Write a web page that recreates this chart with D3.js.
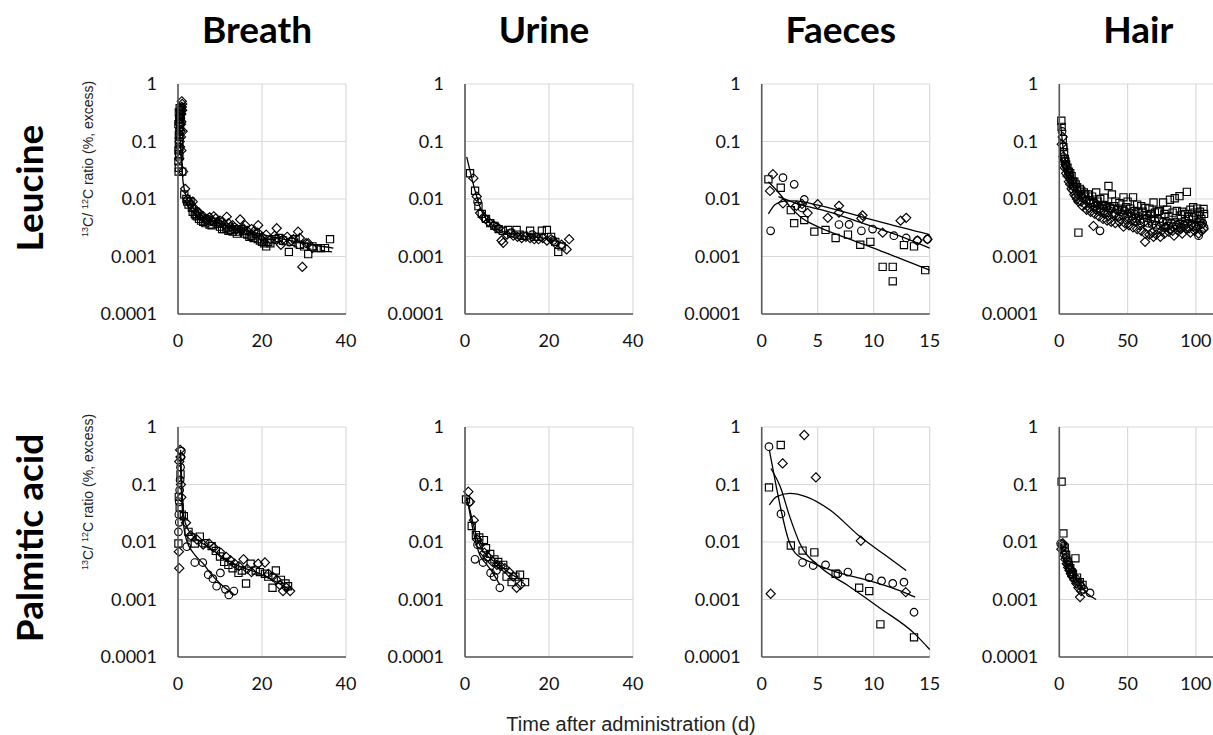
<!DOCTYPE html>
<html><head><meta charset="utf-8">
<script src="https://cdn.jsdelivr.net/npm/d3@7"></script>
<style>body{margin:0;background:#fff}</style>
</head><body><svg id="c" width="1213" height="735"></svg>
<script>
// ---------- tick labels / categories ----------
const colTitles = ["Breath", "Urine", "Faeces", "Hair"];
const rowTitles = ["Leucine", "Palmitic acid"];
const yTicks = [1, 0.1, 0.01, 0.001, 0.0001];
const yTickLabels = ["1", "0.1", "0.01", "0.001", "0.0001"];
const xDomains = [[0, 40], [0, 40], [0, 15], [0, 123]];
const xTicks = [[0, 20, 40], [0, 20, 40], [0, 5, 10, 15], [0, 50, 100]];
const xLabel = "Time after administration (d)";

// ---------- Leucine / Breath ----------
const LB_sq = [[0.15,0.03],[0.2,0.035],[0.3,0.055],[0.25,0.06],[0.35,0.08],[0.2,0.1],[0.4,0.12],[0.3,0.15],[0.5,0.18],[0.4,0.22],[0.6,0.25],[0.5,0.3],[0.7,0.35],[0.6,0.28],[0.8,0.4],[0.1,0.07],[0.2,0.13],[0.1,0.2],[0.3,0.25],[0.2,0.32],[0.4,0.38],[0.1,0.045],[1.0,0.03],[1.5,0.012],[2.0,0.01],[2.2,0.009],[2.5,0.008],[3.0,0.009],[3.3,0.007],[3.5,0.006],[4.0,0.0055],[4.2,0.0052],[4.5,0.005],[5.0,0.0045],[5.5,0.0042],[6.0,0.004],[6.5,0.0038],[7.0,0.0042],[7.5,0.0036],[8.0,0.0035],[8.5,0.004],[9.0,0.004],[9.5,0.0037],[10.0,0.0033],[10.5,0.003],[11.0,0.003],[11.5,0.0032],[12.0,0.0028],[12.5,0.0029],[13.0,0.0027],[13.5,0.003],[14.0,0.0025],[14.5,0.0027],[15.0,0.003],[15.5,0.0028],[16.0,0.0025],[16.5,0.0024],[17.0,0.0022],[17.5,0.0023],[18.0,0.0021],[18.5,0.0025],[19.0,0.002],[19.5,0.0019],[20.0,0.0018],[20.5,0.0017],[21.0,0.0015],[21.5,0.0018],[22.0,0.0017],[23.0,0.002],[24.0,0.0021],[25.0,0.0019],[26.4,0.0012],[27.0,0.0018],[28.0,0.002],[29.0,0.0016],[30.0,0.0015],[31.0,0.0011],[32.0,0.0015],[33.0,0.0014],[34.0,0.0014],[35.0,0.0014],[36.2,0.002]];
const LB_di = [[0.3,0.05],[0.5,0.08],[0.4,0.1],[0.6,0.15],[0.7,0.2],[0.8,0.3],[0.9,0.4],[1.0,0.45],[0.9,0.5],[0.5,0.25],[0.6,0.35],[0.4,0.2],[0.7,0.12],[0.8,0.07],[1.0,0.35],[0.8,0.22],[1.1,0.15],[1.2,0.03],[1.7,0.015],[2.3,0.01],[2.6,0.009],[3.0,0.008],[3.5,0.009],[3.8,0.007],[4.5,0.006],[5.0,0.0058],[5.5,0.005],[6.0,0.005],[6.5,0.0045],[7.0,0.0045],[7.5,0.0048],[8.0,0.0042],[8.5,0.005],[9.0,0.0046],[9.5,0.0038],[10.0,0.0042],[10.5,0.004],[11.0,0.0036],[11.6,0.0049],[12.0,0.0038],[12.5,0.0033],[13.0,0.0035],[13.5,0.0032],[14.0,0.003],[14.8,0.0044],[15.5,0.0031],[16.0,0.0035],[16.5,0.0028],[17.5,0.003],[18.0,0.0027],[19.0,0.0026],[19.1,0.0035],[20.0,0.0022],[21.0,0.0024],[22.0,0.002],[23.0,0.0023],[23.5,0.0031],[24.5,0.0016],[25.0,0.002],[26.0,0.0022],[27.0,0.0019],[27.5,0.002],[28.6,0.0027],[29.0,0.0021],[29.6,0.00066],[30.5,0.0017],[31.0,0.0017],[32.0,0.0014]];
const LB_fit1 = [[0.1,0.45],[0.4,0.15],[0.8,0.05],[1.2,0.02],[2,0.011],[3,0.008],[5,0.0055],[8,0.0043],[12,0.0034],[18,0.0026],[25,0.002],[32,0.0016],[37,0.0014]];
const LB_fit2 = [[2.5,0.0065],[5,0.005],[10,0.0035],[15,0.0027],[20,0.0019],[25,0.0016],[30,0.0014],[37,0.0012]];

// ---------- Leucine / Urine ----------
const LU_sq = [[1.2,0.028],[2.4,0.0139],[3.2,0.0075],[4.0,0.0055],[5.0,0.0045],[6.0,0.0038],[7.0,0.0034],[8.0,0.003],[9.0,0.0028],[10.3,0.0029],[11.0,0.0025],[12.3,0.0029],[13.0,0.0024],[14.0,0.0023],[15.5,0.0028],[16.5,0.0022],[17.5,0.0022],[18.3,0.0028],[19.5,0.0029],[20.5,0.0022],[21.5,0.0018],[22.2,0.0012],[23.0,0.0015]];
const LU_di = [[2.0,0.023],[2.8,0.011],[3.6,0.0057],[4.4,0.0048],[5.6,0.004],[6.8,0.0035],[8.0,0.0031],[8.7,0.0019],[9.1,0.00173],[10.0,0.0024],[11.5,0.0023],[12.5,0.0022],[13.5,0.0021],[14.5,0.0022],[15.5,0.0021],[16.5,0.002],[17.5,0.002],[18.5,0.0021],[19.5,0.0019],[20.5,0.002],[21.5,0.0017],[23.0,0.0016],[24.2,0.00133],[24.8,0.002]];
const LU_ci = [[3.0,0.009],[4.8,0.0045],[7.5,0.0032],[11.0,0.0026],[16.0,0.0024],[21.0,0.0019]];
const LU_fit = [[0.4,0.054],[1.5,0.025],[2.5,0.013],[3.5,0.0075],[5,0.0045],[7,0.0033],[9,0.0027],[12,0.0024],[16,0.0022],[20,0.002],[24,0.0016]];

// ---------- Leucine / Faeces ----------
const LF_sq = [[0.6,0.022],[1.7,0.0157],[2.6,0.0064],[2.9,0.0038],[3.8,0.0043],[4.7,0.0027],[5.7,0.0029],[6.6,0.0021],[7.7,0.0024],[8.8,0.0016],[9.7,0.0018],[10.8,0.00066],[11.7,0.00066],[11.7,0.00037],[12.7,0.00158],[13.6,0.0015],[14.6,0.00058]];
const LF_ci = [[0.8,0.0028],[1.9,0.0235],[2.9,0.018],[3.6,0.007],[3.8,0.0098],[6.9,0.0036],[7.8,0.0036],[8.9,0.0028],[9.9,0.003],[11.8,0.0023],[12.9,0.0021],[13.9,0.0019],[14.8,0.002]];
const LF_di = [[0.74,0.0138],[1.0,0.027],[1.9,0.0084],[3.1,0.0076],[3.6,0.0082],[4.1,0.0057],[5.0,0.0081],[5.9,0.0047],[6.9,0.0076],[6.9,0.0058],[8.9,0.0046],[9.0,0.0052],[10.8,0.0026],[12.4,0.0042],[12.9,0.0047],[13.9,0.0019],[14.8,0.002]];
const LF_fitSq = [[0.6,0.02],[1.5,0.013],[2.5,0.0075],[3.5,0.0048],[5,0.0033],[7,0.0023],[10,0.0014],[12.5,0.0009],[15,0.00058]];
const LF_fitDi = [[0.6,0.0055],[1.2,0.008],[2,0.0092],[3,0.0093],[5,0.0078],[8,0.0055],[11,0.0038],[15,0.0024]];
const LF_fitCi = [[1.5,0.011],[3,0.0085],[6,0.006],[9,0.0038],[12,0.0024],[15,0.0014]];

// ---------- Leucine / Hair ----------
const LH_sq = [[1.5,0.23],[1.7,0.18],[2.5,0.11],[3,0.08],[3.5,0.065],[4,0.05],[4.5,0.045],[5,0.04],[6,0.035],[7,0.03],[8,0.028],[9,0.025],[10,0.02],[11,0.02],[12,0.018],[13,0.016],[14,0.0026],[15,0.015],[16,0.014],[18,0.013],[19,0.012],[21,0.012],[22,0.0095],[24,0.011],[25,0.0085],[27,0.013],[28,0.009],[30,0.01],[31,0.0078],[33,0.0105],[34,0.0075],[36,0.0168],[37,0.007],[38.5,0.012],[40,0.0075],[41,0.009],[43,0.0068],[44,0.0085],[46,0.0065],[47,0.0107],[49,0.0072],[50,0.009],[52,0.0068],[54,0.0107],[55,0.0062],[57,0.008],[58,0.0058],[60,0.0075],[61,0.006],[63,0.007],[64,0.0052],[66,0.0068],[67,0.0055],[69,0.0087],[70,0.0058],[72,0.006],[73,0.0062],[76,0.0087],[77,0.0055],[79,0.0065],[80,0.005],[81,0.0097],[83,0.0058],[84.5,0.0103],[86,0.0062],[88,0.0112],[89,0.0052],[90,0.006],[92,0.0055],[93.4,0.0133],[95,0.005],[96,0.0065],[98,0.0072],[99,0.0058],[101,0.0068],[102,0.0052],[103,0.006],[104,0.0045],[105.6,0.0067],[106,0.0055]];
const LH_di = [[1.8,0.09],[2.5,0.12],[3,0.055],[4,0.035],[4.5,0.04],[5,0.028],[6,0.025],[7,0.02],[8,0.018],[9,0.015],[10,0.014],[11,0.012],[12,0.011],[13,0.01],[14,0.009],[16,0.009],[17,0.0075],[19,0.008],[20,0.0065],[22,0.007],[23,0.006],[25,0.0034],[26,0.0055],[27,0.0065],[29,0.005],[30,0.006],[32,0.0045],[33,0.0055],[35,0.0042],[36,0.005],[38,0.004],[40,0.0052],[41,0.0038],[43,0.0048],[44,0.004],[47,0.0033],[48,0.0038],[50,0.0045],[51,0.0035],[53,0.0042],[54,0.0032],[56,0.004],[57,0.003],[59,0.0035],[60,0.0028],[62.8,0.0018],[63,0.0025],[65,0.0032],[66,0.0024],[68,0.0026],[69,0.0022],[71,0.0024],[72,0.003],[74,0.0022],[75,0.0028],[77,0.0025],[78,0.0033],[80,0.0027],[81,0.003],[83,0.0028],[84,0.0023],[86,0.0032],[87,0.0028],[89,0.003],[90,0.0025],[92,0.0034],[93,0.003],[95,0.0031],[96,0.0026],[98,0.0033],[99,0.0028],[101,0.0032],[102,0.0025],[104,0.0028],[105.6,0.003]];
const LH_ci = [[2,0.15],[2.8,0.08],[3.5,0.05],[4,0.045],[5,0.038],[6,0.032],[6.5,0.03],[7.5,0.026],[8,0.022],[9,0.02],[10,0.017],[11,0.016],[13,0.014],[14,0.012],[16,0.012],[17,0.0105],[19,0.011],[20,0.0095],[22,0.0095],[23,0.0085],[25,0.009],[26,0.0075],[28,0.008],[29.8,0.0028],[30,0.0068],[32,0.0078],[33,0.0062],[35,0.0072],[36,0.0058],[38,0.0068],[40,0.0055],[42,0.0065],[44,0.005],[45,0.006],[47,0.0052],[48,0.0062],[50,0.0055],[52,0.0058],[53,0.005],[55,0.0055],[56,0.0046],[58,0.005],[59,0.0042],[61,0.0052],[62,0.004],[64,0.0047],[65,0.0038],[67,0.0045],[68,0.0036],[70,0.0042],[71,0.0035],[73,0.0044],[74,0.0034],[76,0.004],[77,0.0032],[79,0.0041],[80,0.0034],[82,0.0038],[83,0.0033],[85,0.004],[86,0.0035],[88,0.0037],[89,0.0032],[91,0.0035],[92,0.0042],[94,0.0038],[95,0.0045],[97,0.0036],[98,0.0048],[100,0.0034],[101,0.004],[102,0.0023],[103,0.0042],[104,0.0036],[105,0.0038],[106,0.0032]];
const LH_fit = [[1,0.2],[3,0.07],[6,0.035],[10,0.02],[20,0.011],[35,0.0075],[50,0.0058],[70,0.0048],[90,0.0042],[106,0.004]];

// ---------- Palmitic acid / Breath ----------
const PB_ci = [[0.1,0.015],[0.2,0.03],[0.3,0.05],[0.4,0.08],[0.5,0.12],[0.6,0.2],[0.7,0.3],[0.8,0.38],[0.3,0.022],[2.1,0.0083],[4.0,0.0044],[5.9,0.0044],[7.2,0.0027],[8.3,0.0023],[9.2,0.0017],[10.1,0.0029],[11.3,0.0015],[12.1,0.0012],[13.3,0.0014]];
const PB_sq = [[0.1,0.0094],[0.2,0.061],[0.4,0.04],[0.6,0.15],[0.9,0.03],[1.4,0.028],[2.5,0.015],[3.2,0.012],[4.0,0.0094],[5.2,0.0124],[6.5,0.0095],[8.0,0.0085],[9.0,0.007],[10.0,0.0056],[11.0,0.0045],[12.0,0.004],[13.0,0.0035],[14.4,0.0029],[15.2,0.0032],[16.2,0.0019],[17.3,0.0042],[18.5,0.0032],[19.5,0.003],[20.7,0.0028],[21.5,0.0025],[22.5,0.0016],[23.3,0.0032],[24.5,0.0022],[25.6,0.0019],[26.2,0.0017]];
const PB_di = [[0.3,0.0035],[0.2,0.0068],[0.3,0.25],[0.5,0.4],[0.6,0.3],[0.7,0.1],[0.8,0.06],[1.9,0.0216],[3.0,0.013],[4.5,0.011],[6.0,0.009],[7.4,0.0094],[8.5,0.008],[10.2,0.0065],[11.5,0.0055],[12.5,0.0048],[13.5,0.0042],[14.5,0.0038],[15.6,0.005],[16.5,0.0034],[17.5,0.003],[19.1,0.0042],[20.7,0.0044],[21.5,0.0028],[22.5,0.0025],[23.5,0.0022],[24.2,0.0018],[25.0,0.0014],[25.8,0.0016],[26.7,0.0014]];
const PB_fitCi = [[0.5,0.35],[0.8,0.08],[1.2,0.025],[2,0.011],[4,0.006],[6,0.0042],[8,0.0027],[10,0.0019],[13.5,0.0012]];
const PB_fitSq = [[0.6,0.4],[0.9,0.1],[1.3,0.03],[2.5,0.016],[5,0.0105],[8,0.0075],[11,0.0052],[15,0.0037],[19,0.0029],[23,0.0021],[26.5,0.0015]];

// ---------- Palmitic acid / Urine ----------
const PU_sq = [[0.24,0.055],[1.6,0.019],[2.6,0.0132],[3.4,0.012],[4.5,0.0108],[5.0,0.0078],[6.0,0.0062],[7.0,0.005],[7.9,0.0045],[9.1,0.004],[9.9,0.0025],[11.1,0.002],[12.0,0.0025],[13.1,0.0027],[14.3,0.002]];
const PU_di = [[0.8,0.075],[1.2,0.05],[2.1,0.024],[2.9,0.011],[3.6,0.009],[4.6,0.0065],[5.5,0.0055],[6.6,0.0045],[7.6,0.004],[8.5,0.0038],[9.5,0.0035],[10.5,0.003],[11.5,0.0025],[12.3,0.0016],[13.2,0.0018]];
const PU_ci = [[1.0,0.05],[2.4,0.005],[3.0,0.009],[4.3,0.0044],[5.2,0.0055],[6.1,0.0029],[6.9,0.0025],[7.5,0.0032],[8.3,0.0016]];
const PU_fit = [[0.2,0.06],[1,0.04],[2,0.02],[3,0.011],[4,0.0075],[6,0.0052],[8,0.004],[10,0.0031],[12,0.0025],[14,0.0021]];
const PU_fitCi = [[0.5,0.06],[2,0.015],[3.5,0.006],[5,0.0042],[6.5,0.003],[8.3,0.0018]];

// ---------- Palmitic acid / Faeces ----------
const PF_ci = [[0.65,0.455],[1.72,0.0308],[3.65,0.0044],[4.6,0.0039],[5.7,0.004],[6.8,0.0028],[7.7,0.003],[9.6,0.0024],[10.7,0.0021],[11.7,0.0019],[12.7,0.002],[13.6,0.0006]];
const PF_sq = [[0.65,0.089],[1.7,0.486],[2.6,0.0087],[3.65,0.0071],[4.7,0.0066],[6.6,0.0028],[8.7,0.0016],[9.6,0.0014],[10.6,0.00037],[13.6,0.00022]];
const PF_di = [[0.8,0.00126],[1.87,0.233],[3.8,0.726],[4.84,0.133],[8.85,0.0105],[12.86,0.00134]];
const PF_fitCi = [[0.68,0.4],[1.3,0.092],[1.8,0.031],[2.4,0.0108],[3.0,0.0064],[4.6,0.0043],[6.7,0.003],[9.3,0.0022],[12,0.0015],[13.7,0.0011]];
const PF_fitSq = [[0.82,0.19],[1.65,0.092],[2.5,0.0276],[3.4,0.0095],[5.2,0.0037],[7.6,0.0018],[10.6,0.0007],[13.6,0.00026],[15,0.000135]];
const PF_fitDi = [[0.68,0.044],[1.3,0.061],[2.5,0.07],[4,0.061],[6.1,0.036],[8.8,0.0123],[11.2,0.0056],[12.9,0.0032]];

// ---------- Palmitic acid / Hair ----------
const PH_sq = [[1.7,0.112],[3,0.0141],[4,0.008],[5,0.006],[6,0.0045],[7,0.004],[8,0.0035],[9,0.003],[10,0.0028],[11.8,0.0052],[13,0.0024],[15,0.002],[17,0.0018]];
const PH_ci = [[1,0.0094],[2,0.009],[3,0.0085],[4,0.007],[5,0.0055],[6,0.0048],[7,0.004],[8,0.0034],[9,0.003],[10,0.0027],[12,0.0023],[14,0.002],[16,0.0017],[18,0.0015],[22.5,0.0013]];
const PH_di = [[1.5,0.0075],[2.5,0.0095],[3.5,0.006],[4.5,0.005],[5.5,0.0042],[6.5,0.0036],[7.5,0.0032],[8.5,0.0028],[9.5,0.0025],[11,0.0022],[12.5,0.0019],[14,0.0016],[15.2,0.0011],[16,0.0014]];
const PH_fit = [[1.3,0.0068],[5,0.0045],[10,0.0027],[15,0.0018],[20,0.0013],[27,0.001]];

// ---------- panel table ----------
const panels = [
  {row:0,col:0,pts:[["square",LB_sq],["diamond",LB_di]],fits:[[LB_fit1,null],[LB_fit2,"4,3"]]},
  {row:0,col:1,pts:[["square",LU_sq],["diamond",LU_di],["circle",LU_ci]],fits:[[LU_fit,null]]},
  {row:0,col:2,pts:[["square",LF_sq],["circle",LF_ci],["diamond",LF_di]],fits:[[LF_fitSq,null],[LF_fitDi,null],[LF_fitCi,null]]},
  {row:0,col:3,pts:[["square",LH_sq],["diamond",LH_di],["circle",LH_ci]],fits:[[LH_fit,null]]},
  {row:1,col:0,pts:[["circle",PB_ci],["square",PB_sq],["diamond",PB_di]],fits:[[PB_fitCi,null],[PB_fitSq,null]]},
  {row:1,col:1,pts:[["square",PU_sq],["diamond",PU_di],["circle",PU_ci]],fits:[[PU_fit,null],[PU_fitCi,null]]},
  {row:1,col:2,pts:[["circle",PF_ci],["square",PF_sq],["diamond",PF_di]],fits:[[PF_fitCi,null],[PF_fitSq,null],[PF_fitDi,null]]},
  {row:1,col:3,pts:[["square",PH_sq],["circle",PH_ci],["diamond",PH_di]],fits:[[PH_fit,null]]}
];

// ---------- layout ----------
const colLeft = [178, 465, 761.7, 1059.3];
const plotW = 168;
const rowTop = [84, 427];
const plotH = 230;
const svg = d3.select("#c");
const tickFont = "Lato, 'Open Sans', sans-serif";
const titleFont = "Lato, 'Open Sans', sans-serif";

function shapePath(shape, x, y) {
  if (shape === "square") { const h = 3.6; return `M${x-h},${y-h}h${2*h}v${2*h}h${-2*h}Z`; }
  if (shape === "diamond") { const h = 4.6; return `M${x},${y-h}L${x+h},${y}L${x},${y+h}L${x-h},${y}Z`; }
  const r = 3.8; return `M${x-r},${y}a${r},${r} 0 1,0 ${2*r},0a${r},${r} 0 1,0 ${-2*r},0Z`;
}

panels.forEach(p => {
  const left = colLeft[p.col], top = rowTop[p.row];
  const x = d3.scaleLinear().domain(xDomains[p.col]).range([left, left + plotW]);
  const y = d3.scaleLog().domain([0.0001, 1]).range([top + plotH, top]);
  const g = svg.append("g");
  g.selectAll(".hg").data(yTicks).enter().append("line")
    .attr("x1", left).attr("x2", left + plotW).attr("y1", d => y(d)).attr("y2", d => y(d))
    .attr("stroke", "#d9d9d9").attr("stroke-width", 1.2);
  g.selectAll(".vg").data(xTicks[p.col]).enter().append("line")
    .attr("x1", d => x(d)).attr("x2", d => x(d)).attr("y1", top).attr("y2", top + plotH)
    .attr("stroke", "#d9d9d9").attr("stroke-width", 1.2);
  const line = d3.line().x(d => x(d[0])).y(d => y(d[1])).curve(d3.curveMonotoneX);
  p.fits.forEach(([data, dash]) => {
    g.append("path").attr("d", line(data)).attr("fill", "none").attr("stroke", "#000")
      .attr("stroke-width", 1.3).attr("stroke-dasharray", dash);
  });
  p.pts.forEach(([shape, data]) => {
    g.selectAll(null).data(data).enter().append("path")
      .attr("d", d => shapePath(shape, x(d[0]), y(d[1])))
      .attr("fill", "none").attr("stroke", "#000").attr("stroke-width", 1.15);
  });
  g.append("line").attr("x1", left).attr("x2", left).attr("y1", top).attr("y2", top + plotH)
    .attr("stroke", "#595959").attr("stroke-width", 1.6);
  g.append("line").attr("x1", left).attr("x2", left + plotW).attr("y1", top + plotH).attr("y2", top + plotH)
    .attr("stroke", "#595959").attr("stroke-width", 1.6);
  g.selectAll(".yt").data(yTicks).enter().append("text")
    .attr("x", left - 21).attr("y", d => y(d)).attr("dy", "0.35em")
    .attr("text-anchor", "end").attr("font-family", tickFont).attr("font-size", 18).attr("fill", "#111")
    .text((d, i) => yTickLabels[i]);
  g.selectAll(".xt").data(xTicks[p.col]).enter().append("text")
    .attr("x", d => x(d)).attr("y", top + plotH + 27).attr("dy", "0.35em")
    .attr("text-anchor", "middle").attr("font-family", tickFont).attr("font-size", 18).attr("fill", "#111")
    .text(d => d);
});

colTitles.forEach((t, i) => {
  svg.append("text").attr("x", colLeft[i] + plotW / 2 - 5).attr("y", 43)
    .attr("text-anchor", "middle").attr("font-family", titleFont).attr("font-weight", "bold")
    .attr("font-size", 37).attr("fill", "#000").text(t);
});
const rowTitleY = [188, 538];
rowTitles.forEach((t, i) => {
  svg.append("text").attr("transform", `translate(43,${rowTitleY[i]}) rotate(-90)`)
    .attr("text-anchor", "middle").attr("font-family", titleFont).attr("font-weight", "bold")
    .attr("font-size", 37).attr("fill", "#000").text(t);
});
const yLabBottom = [237, 570];
yLabBottom.forEach(b => {
  const t = svg.append("text").attr("transform", `translate(93,${b}) rotate(-90)`)
    .attr("text-anchor", "start").attr("font-family", "'Liberation Sans', Arial, sans-serif")
    .attr("font-size", 14).attr("fill", "#222");
  t.append("tspan").attr("font-size", 9).attr("dy", -5).text("13");
  t.append("tspan").attr("dy", 5).text("C/ ");
  t.append("tspan").attr("font-size", 9).attr("dy", -5).text("12");
  t.append("tspan").attr("dy", 5).text("C ratio (%, excess)");
});
svg.append("text").attr("x", 631).attr("y", 731).attr("text-anchor", "middle")
  .attr("font-family", "'Liberation Sans', Arial, sans-serif").attr("font-size", 20).attr("fill", "#222")
  .text(xLabel);
</script></body></html>
